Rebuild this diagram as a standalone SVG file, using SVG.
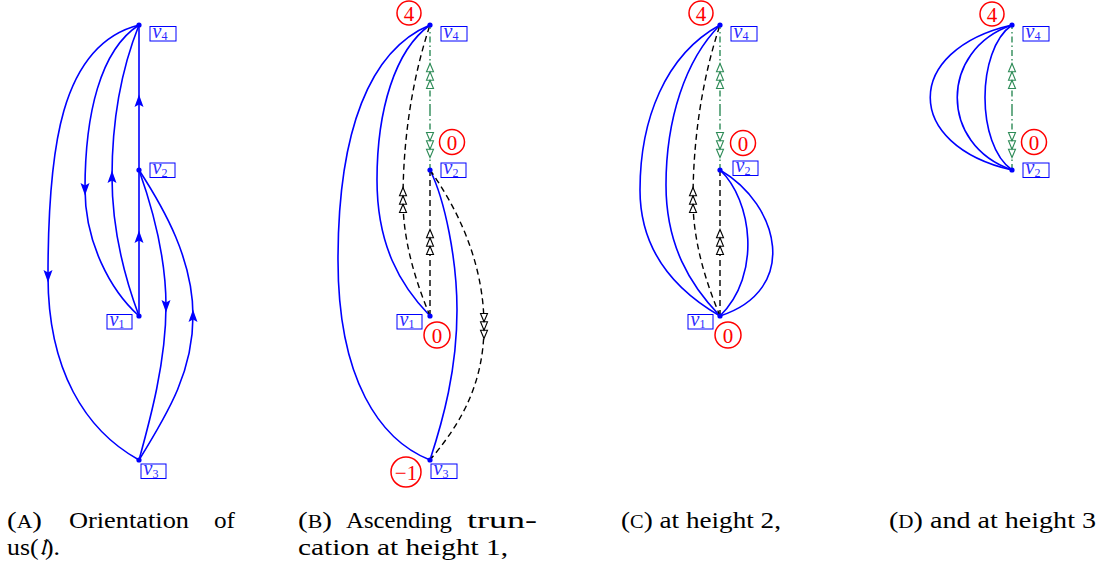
<svg xmlns="http://www.w3.org/2000/svg" width="1104" height="571" viewBox="0 0 1104 571">
<style>
.e{fill:none;stroke:#0000ff;stroke-width:1.6}
.ea{marker-mid:url(#ah)}
.d{fill:none;stroke:#000;stroke-width:1.4;stroke-dasharray:6 4;marker-mid:url(#tb)}
.g{fill:none;stroke:#2e8b57;stroke-width:1.4;stroke-dasharray:6 3 1.5 3;marker-mid:url(#tg)}
.dot{fill:#0000ff}
.box{fill:#fff;stroke:#0000ff;stroke-width:1}
.lbl{font-style:italic;font-size:20px;fill:#2a2aff}
.sub{font-size:12px;font-style:normal}
.h{fill:#fff;stroke:#ff0000;stroke-width:1.5}
.ht{font-size:21px;fill:#ff0000;text-anchor:middle}
.cap{font-size:24px;fill:#000}
.sc{font-size:18px}
</style>
<defs>
<marker id="ah" viewBox="-7 -5 14 10" markerWidth="14" markerHeight="10" refX="0" refY="0" orient="auto" markerUnits="userSpaceOnUse"><path d="M6.5,0 L-6,-4.5 L-3.5,0 L-6,4.5 z" fill="#0000ff"/></marker>
<marker id="tb" viewBox="-14 -5 28 10" markerWidth="28" markerHeight="10" refX="0" refY="0" orient="auto" markerUnits="userSpaceOnUse"><path d="M-12.5,-3.5 L-4.2,0 L-12.5,3.5 z M-4.2,-3.5 L4.2,0 L-4.2,3.5 z M4.2,-3.5 L12.5,0 L4.2,3.5 z" fill="#fff" stroke="#000" stroke-width="1.1"/></marker>
<marker id="tg" viewBox="-14 -5 28 10" markerWidth="28" markerHeight="10" refX="0" refY="0" orient="auto" markerUnits="userSpaceOnUse"><path d="M-12.5,-3.5 L-4.2,0 L-12.5,3.5 z M-4.2,-3.5 L4.2,0 L-4.2,3.5 z M4.2,-3.5 L12.5,0 L4.2,3.5 z" fill="#fff" stroke="#2e8b57" stroke-width="1.1"/></marker>
</defs>

<g id="connectors">
  <g id="conn-a">
    <path class="e ea" d="M139,25 C60,45 48,150 48,276 C48,370 85,430 139,460"/>
    <path class="e ea" d="M139,25 C100,50 85,115 85,189 C85,242 110,290 139,316"/>
    <path class="e ea" d="M139,316 C120,265 112,222 112,177 C112,110 125,60 139,25"/>
    <path class="e ea" d="M139,170 L139,101 L139,25"/>
    <path class="e ea" d="M139,316 L139,237 L139,170"/>
    <path class="e ea" d="M139,170 C155,215 166,260 166,306 C166,362 150,420 139,460"/>
    <path class="e ea" d="M139,460 C170,410 193,370 193,316 C193,260 165,210 139,170"/>
  </g>
  <g id="conn-b">
    <path class="e" d="M430,25 C370,50 338,130 338,260 C338,380 380,440 430,460"/>
    <path class="e" d="M430,25 C395,50 377,110 377,180 C377,245 400,285 430,316"/>
    <path class="e" d="M430,170 C445,200 457,260 457,310 C457,370 443,420 430,460"/>
    <path class="d" d="M430,316 C415,280 403,240 403,200 C403,130 415,70 430,25"/>
    <path class="d" d="M430,316 L430,242 L430,170"/>
    <path class="d" d="M430,170 C455,205 484,260 484,326 C484,390 455,430 430,460"/>
    <path class="g" d="M430,110 L430,76 L430,25"/>
    <path class="g" d="M430,110 L430,145 L430,170"/>
  </g>
  <g id="conn-c">
    <path class="e" d="M720,25 C665,55 640,120 640,190 C640,250 675,290 720,316"/>
    <path class="e" d="M720,25 C685,60 666,120 666,185 C666,245 690,285 720,316"/>
    <path class="e" d="M720,170 C752,200 762,275 720,316"/>
    <path class="e" d="M720,170 C780,205 800,290 720,316"/>
    <path class="d" d="M720,316 C705,280 693,240 693,200 C693,130 705,70 720,25"/>
    <path class="d" d="M720,316 L720,242 L720,170"/>
    <path class="g" d="M720,110 L720,76 L720,25"/>
    <path class="g" d="M720,110 L720,145 L720,170"/>
  </g>
  <g id="conn-d">
    <path class="e" d="M1012,25 C903,50 903,145 1012,170"/>
    <path class="e" d="M1012,25 C939,50 939,145 1012,170"/>
    <path class="e" d="M1012,25 C976,50 976,145 1012,170"/>
    <path class="g" d="M1012,110 L1012,76 L1012,25"/>
    <path class="g" d="M1012,110 L1012,145 L1012,170"/>
  </g>
</g>

<g id="nodes" font-family="Liberation Serif, DejaVu Serif, serif">
<!-- Panel A nodes -->
<g id="a-v4"><circle class="dot" cx="139" cy="25" r="2.6"/><rect class="box" x="150" y="26.5" width="26" height="14.5"/><text class="lbl" x="152.5" y="37.5">v<tspan class="sub" dy="2.5">4</tspan></text></g>
<g id="a-v2"><circle class="dot" cx="139" cy="170" r="2.6"/><rect class="box" x="150" y="163" width="25" height="14.5"/><text class="lbl" x="152.5" y="174">v<tspan class="sub" dy="2.5">2</tspan></text></g>
<g id="a-v1"><circle class="dot" cx="139" cy="316" r="2.6"/><rect class="box" x="107" y="314.5" width="25" height="14.5"/><text class="lbl" x="109.5" y="325.5">v<tspan class="sub" dy="2.5">1</tspan></text></g>
<g id="a-v3"><circle class="dot" cx="139" cy="460" r="2.6"/><rect class="box" x="141" y="464" width="25" height="14.5"/><text class="lbl" x="143.5" y="475">v<tspan class="sub" dy="2.5">3</tspan></text></g>

<!-- Panel B nodes -->
<g id="b-v4"><circle class="dot" cx="430" cy="25" r="2.6"/><rect class="box" x="441" y="26.5" width="26" height="14.5"/><text class="lbl" x="443.5" y="37.5">v<tspan class="sub" dy="2.5">4</tspan></text><circle class="h" cx="409" cy="13" r="12"/><text class="ht" x="409" y="20.5">4</text></g>
<g id="b-v2"><circle class="dot" cx="430" cy="170" r="2.6"/><rect class="box" x="441" y="163" width="25" height="14.5"/><text class="lbl" x="443.5" y="174">v<tspan class="sub" dy="2.5">2</tspan></text><circle class="h" cx="452" cy="142" r="12.5"/><text class="ht" x="452" y="149.5">0</text></g>
<g id="b-v1"><circle class="dot" cx="430" cy="316" r="2.6"/><rect class="box" x="397" y="314.5" width="25" height="14.5"/><text class="lbl" x="399.5" y="325.5">v<tspan class="sub" dy="2.5">1</tspan></text><circle class="h" cx="437" cy="335" r="13"/><text class="ht" x="437" y="342.5">0</text></g>
<g id="b-v3"><circle class="dot" cx="430" cy="460" r="2.6"/><rect class="box" x="431" y="464" width="26" height="14.5"/><text class="lbl" x="433.5" y="475">v<tspan class="sub" dy="2.5">3</tspan></text><circle class="h" cx="406" cy="472" r="15"/><text class="ht" x="406" y="479.5">−1</text></g>

<!-- Panel C nodes -->
<g id="c-v4"><circle class="dot" cx="720" cy="25" r="2.6"/><rect class="box" x="731" y="26.5" width="26" height="14.5"/><text class="lbl" x="733.5" y="37.5">v<tspan class="sub" dy="2.5">4</tspan></text><circle class="h" cx="701" cy="13" r="12"/><text class="ht" x="701" y="20.5">4</text></g>
<g id="c-v2"><circle class="dot" cx="720" cy="170" r="2.6"/><rect class="box" x="733" y="161" width="25" height="14.5"/><text class="lbl" x="735.5" y="172">v<tspan class="sub" dy="2.5">2</tspan></text><circle class="h" cx="743" cy="143" r="12.5"/><text class="ht" x="743" y="150.5">0</text></g>
<g id="c-v1"><circle class="dot" cx="720" cy="316" r="2.6"/><rect class="box" x="688" y="314.5" width="25" height="14.5"/><text class="lbl" x="690.5" y="325.5">v<tspan class="sub" dy="2.5">1</tspan></text><circle class="h" cx="728" cy="335" r="13"/><text class="ht" x="728" y="342.5">0</text></g>

<!-- Panel D nodes -->
<g id="d-v4"><circle class="dot" cx="1012" cy="25" r="2.6"/><rect class="box" x="1023" y="26.5" width="26" height="14.5"/><text class="lbl" x="1025.5" y="37.5">v<tspan class="sub" dy="2.5">4</tspan></text><circle class="h" cx="992" cy="14" r="12"/><text class="ht" x="992" y="21.5">4</text></g>
<g id="d-v2"><circle class="dot" cx="1012" cy="170" r="2.6"/><rect class="box" x="1023" y="163" width="26" height="14.5"/><text class="lbl" x="1025.5" y="174">v<tspan class="sub" dy="2.5">2</tspan></text><circle class="h" cx="1034" cy="142" r="12.5"/><text class="ht" x="1034" y="149.5">0</text></g>
</g>

<!-- Captions -->
<g id="captions" font-family="Liberation Serif, DejaVu Serif, serif">
  <text class="cap" x="7" y="528" textLength="35" lengthAdjust="spacingAndGlyphs">(<tspan class="sc">A</tspan>)</text>
  <text class="cap" x="69" y="528" textLength="120" lengthAdjust="spacingAndGlyphs">Orientation</text>
  <text class="cap" x="214" y="528" textLength="21" lengthAdjust="spacingAndGlyphs">of</text>
  <text class="cap" x="7" y="555" textLength="53" lengthAdjust="spacingAndGlyphs">us(<tspan font-style="italic">𝔩</tspan>).</text>
  <text class="cap" x="298" y="528" textLength="34" lengthAdjust="spacingAndGlyphs">(<tspan class="sc">B</tspan>)</text>
  <text class="cap" x="346" y="528" textLength="106" lengthAdjust="spacingAndGlyphs">Ascending</text>
  <text class="cap" x="467" y="528" textLength="70" lengthAdjust="spacingAndGlyphs">trun-</text>
  <text class="cap" x="298" y="555" textLength="210" lengthAdjust="spacingAndGlyphs">cation at height 1,</text>
  <text class="cap" x="621" y="528" textLength="160" lengthAdjust="spacingAndGlyphs">(<tspan class="sc">C</tspan>) at height 2,</text>
  <text class="cap" x="889" y="528" textLength="207" lengthAdjust="spacingAndGlyphs">(<tspan class="sc">D</tspan>) and at height 3</text>
</g>
</svg>
